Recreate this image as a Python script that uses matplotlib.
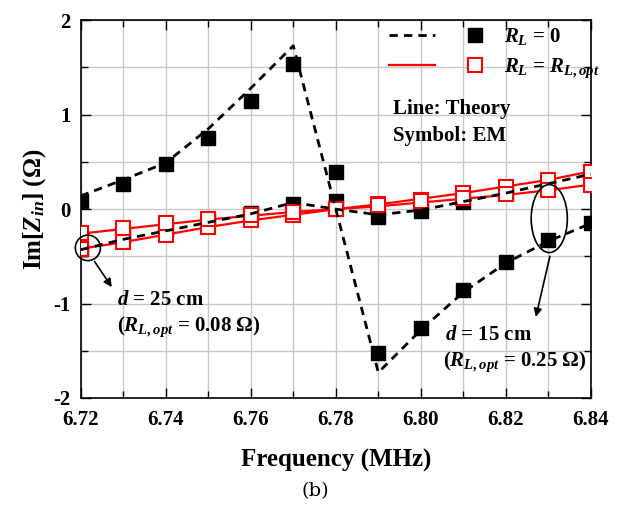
import matplotlib
matplotlib.use("Agg")
import matplotlib.pyplot as plt
from matplotlib.lines import Line2D
from matplotlib.legend_handler import HandlerTuple
from matplotlib.patches import Ellipse
from matplotlib.ticker import MultipleLocator

plt.rcParams['font.family'] = ['Liberation Serif', 'DejaVu Serif']
plt.rcParams['font.weight'] = 'bold'
plt.rcParams['axes.labelweight'] = 'bold'
plt.rcParams['axes.unicode_minus'] = False
plt.rcParams['mathtext.fontset'] = 'custom'
plt.rcParams['mathtext.rm'] = 'Liberation Serif:bold'
plt.rcParams['mathtext.it'] = 'Liberation Serif:italic:bold'
plt.rcParams['mathtext.bf'] = 'Liberation Serif:bold'

# ---------------------------
# data
# ---------------------------
freq = [6.72, 6.73, 6.74, 6.75, 6.76, 6.77, 6.78, 6.79, 6.80, 6.81, 6.82, 6.83, 6.84]

# R_L = 0, theory (dashed) and EM (filled squares)
theory_d15_r0 = [0.14, 0.31, 0.49, 0.85, 1.28, 1.73, 0.0, -1.73, -1.28, -0.88, -0.57, -0.34, -0.15]
em_d15_r0 = [0.09, 0.27, 0.48, 0.75, 1.14, 1.54, 0.39, -1.52, -1.26, -0.86, -0.56, -0.33, -0.15]
theory_d25_r0 = [-0.43, -0.32, -0.23, -0.14, -0.05, 0.07, 0.0, -0.06, -0.01, 0.08, 0.17, 0.27, 0.37]
em_d25_r0 = [-0.42, -0.28, -0.22, -0.12, -0.04, 0.05, 0.09, -0.08, -0.02, 0.08, 0.17, 0.27, 0.35]

# R_L = R_L,opt, theory (solid) and EM (open squares)
theory_d25_opt = [-0.42, -0.35, -0.27, -0.19, -0.12, -0.06, 0.0, 0.05, 0.11, 0.17, 0.24, 0.31, 0.40]
em_d25_opt = [-0.42, -0.35, -0.27, -0.19, -0.12, -0.06, 0.0, 0.05, 0.10, 0.17, 0.23, 0.31, 0.39]
theory_d15_opt = [-0.26, -0.21, -0.16, -0.11, -0.07, -0.03, 0.0, 0.03, 0.07, 0.11, 0.15, 0.20, 0.26]
em_d15_opt = [-0.25, -0.20, -0.15, -0.10, -0.06, -0.03, 0.0, 0.04, 0.09, 0.12, 0.16, 0.20, 0.26]

xticks = [6.72, 6.74, 6.76, 6.78, 6.80, 6.82, 6.84]
xticklabels = ['6.72', '6.74', '6.76', '6.78', '6.80', '6.82', '6.84']
yticks = [-2, -1, 0, 1, 2]

# ---------------------------
# figure
# ---------------------------
fig = plt.figure(figsize=(6.3, 5.07), dpi=100)
ax = fig.add_axes([0.128, 0.215, 0.81, 0.745])

sq = dict(marker='s', markersize=9.5, linestyle='none')
ax.plot(freq, em_d15_r0, color='black', zorder=3, **sq)
ax.plot(freq, em_d25_r0, color='black', zorder=3, **sq)

ax.plot(freq, theory_d25_opt, color='red', lw=1.6, zorder=4)
ax.plot(freq, theory_d15_opt, color='red', lw=1.6, zorder=4)
ax.plot(freq, em_d25_opt, color='red', mfc='white', mew=1.5, zorder=5, **sq)
ax.plot(freq, em_d15_opt, color='red', mfc='white', mew=1.5, zorder=5, **sq)

dash = dict(color='black', lw=2, linestyle=(0, (3, 2.2)), zorder=6)
ax.plot(freq, theory_d15_r0, **dash)
ax.plot(freq, theory_d25_r0, **dash)

ax.set_xlim(6.72, 6.84)
ax.set_ylim(-2, 2)
ax.set_xticks(xticks)
ax.set_xticklabels(xticklabels)
ax.set_yticks(yticks)
ax.xaxis.set_minor_locator(MultipleLocator(0.01))
ax.yaxis.set_minor_locator(MultipleLocator(0.5))
ax.grid(True, which='both', color='#c8c8c8', lw=1, zorder=0)
ax.set_axisbelow(True)
ax.tick_params(which='both', direction='in', top=True, right=True, labelsize=15)
ax.tick_params(axis='x', which='major', pad=9)
ax.tick_params(axis='y', which='major', pad=7)
ax.tick_params(which='major', length=7, width=1)
ax.tick_params(which='minor', length=5, width=1)
for s in ax.spines.values():
    s.set_linewidth(1.2)

ax.set_xlabel('Frequency (MHz)', fontsize=18, labelpad=13)
ax.set_ylabel('Im[$Z_{in}$] (Ω)', fontsize=18, labelpad=4)

# legend
h1 = (Line2D([], [], **{k: v for k, v in dash.items() if k != 'zorder'}),
      Line2D([], [], color='black', **sq))
h2 = (Line2D([], [], color='red', lw=1.6),
      Line2D([], [], color='red', mfc='white', mew=1.5, **sq))
ax.legend([h1, h2], ['$R_L$ = 0', '$R_L$ = $R_{L,opt}$'],
          handler_map={tuple: HandlerTuple(ndivide=None, pad=0.8)},
          handlelength=5.2, handletextpad=0.3, labelspacing=0.45,
          loc='upper left', bbox_to_anchor=(0.605, 0.985), borderpad=0,
          borderaxespad=0, frameon=False, fontsize=15)
ax.text(0.612, 0.765, 'Line: Theory', transform=ax.transAxes, fontsize=15, va='center')
ax.text(0.612, 0.693, 'Symbol: EM', transform=ax.transAxes, fontsize=15, va='center')

# annotations
ax.add_patch(Ellipse((6.7217, -0.41), 0.0059, 0.27, fill=False, color='black', lw=1.2,
                     clip_on=False, zorder=7))
ax.annotate('', xy=(6.7277, -0.85), xytext=(6.7229, -0.53),
            arrowprops=dict(arrowstyle='-|>', color='black', lw=1.2, mutation_scale=12))
ax.text(6.7285, -0.96, '$d$ = 25 cm', fontsize=15, va='center')
ax.text(6.7285, -1.25, '($R_{L,opt}$ = 0.08 Ω)', fontsize=15, va='center')

ax.add_patch(Ellipse((6.8302, -0.1), 0.0085, 0.72, fill=False, color='black', lw=1.2, zorder=7))
ax.annotate('', xy=(6.8269, -1.17), xytext=(6.8305, -0.47),
            arrowprops=dict(arrowstyle='-|>', color='black', lw=1.2, mutation_scale=12))
ax.text(6.8057, -1.33, '$d$ = 15 cm', fontsize=15, va='center')
ax.text(6.8052, -1.62, '($R_{L,opt}$ = 0.25 Ω)', fontsize=15, va='center')

fig.text(0.5, 0.032, '(b)', ha='center', va='center', fontsize=14, fontweight='normal',
         family='DejaVu Serif')

fig.savefig('out.png', dpi=100)
